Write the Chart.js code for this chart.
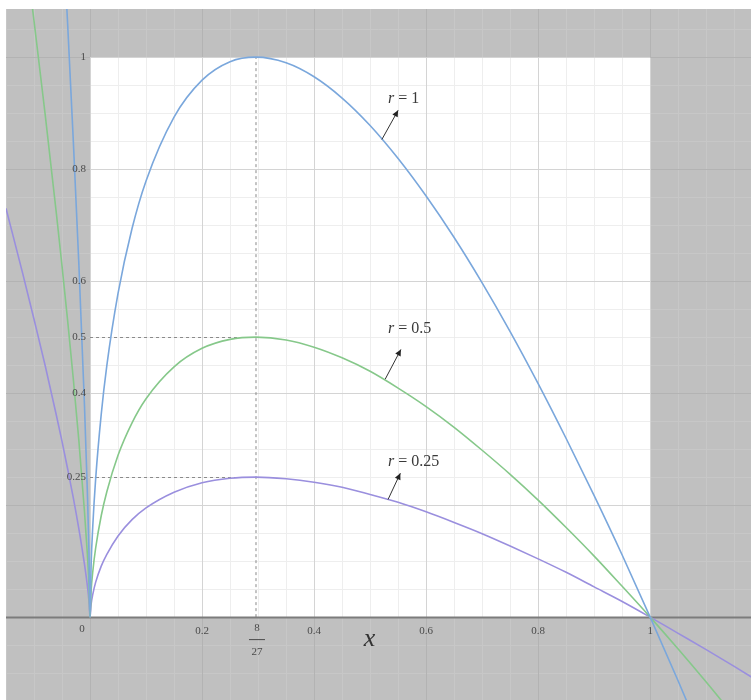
<!DOCTYPE html>
<html lang="en">
<head>
<meta charset="UTF-8">
<title>r curves</title>
<script src="https://cdn.jsdelivr.net/npm/chart.js"></script>
<style>
  body { margin: 0; background: #fff; }
  #wrap { width: 751px; height: 700px; }
</style>
</head>
<body>
<div id="wrap"><canvas id="chart" width="751" height="700"></canvas></div>
<script>
// values
const xs = [-0.15, -0.12, -0.1, -0.08, -0.06, -0.05, -0.04, -0.03, -0.02, -0.01, -0.005, -0.002,
  0, 0.002, 0.005, 0.01, 0.02, 0.03, 0.05, 0.075, 0.1, 0.15, 0.2, 0.25, 0.2963, 0.35, 0.4, 0.45,
  0.5, 0.55, 0.6, 0.65, 0.7, 0.75, 0.8, 0.85, 0.9, 0.95, 1, 1.05, 1.1, 1.15, 1.2];
const r1 = [2.918, 2.452, 2.129, 1.794, 1.440, 1.254, 1.060, 0.854, 0.632, 0.381, 0.231, 0.121,
  0, 0.094, 0.164, 0.246, 0.362, 0.449, 0.578, 0.694, 0.779, 0.893, 0.959, 0.992, 1.0, 0.990, 0.965, 0.927,
  0.878, 0.819, 0.752, 0.678, 0.597, 0.510, 0.417, 0.319, 0.217, 0.111, 0, -0.114, -0.232, -0.353, -0.478];
const r05 = [1.459, 1.226, 1.065, 0.897, 0.720, 0.627, 0.530, 0.427, 0.316, 0.190, 0.116, 0.060,
  0, 0.047, 0.082, 0.123, 0.181, 0.224, 0.289, 0.347, 0.390, 0.447, 0.480, 0.496, 0.5, 0.495, 0.482, 0.463,
  0.439, 0.409, 0.376, 0.339, 0.298, 0.255, 0.209, 0.160, 0.109, 0.055, 0, -0.057, -0.116, -0.177, -0.239];
const r025 = [0.730, 0.613, 0.532, 0.449, 0.360, 0.314, 0.265, 0.214, 0.158, 0.095, 0.058, 0.030,
  0, 0.023, 0.041, 0.062, 0.091, 0.112, 0.145, 0.174, 0.195, 0.223, 0.240, 0.248, 0.25, 0.247, 0.241, 0.232,
  0.219, 0.205, 0.188, 0.169, 0.149, 0.127, 0.104, 0.080, 0.054, 0.028, 0, -0.029, -0.058, -0.088, -0.119];

const yTicks = [1, 0.8, 0.6, 0.5, 0.4, 0.25];
const yTickLabels = ['1', '0.8', '0.6', '0.5', '0.4', '0.25'];
const xTicks = [0.2, 0.4, 0.6, 0.8, 1];
const xTickLabels = ['0.2', '0.4', '0.6', '0.8', '1'];
const peak = 8 / 27;
const dashLevels = [0.5, 0.25];
const seriesNames = ['1', '0.5', '0.25'];

const pts = ys => xs.map((x, i) => ({ x, y: ys[i] }));

// background, grid and axis, drawn from the scales
const paper = {
  id: 'paper',
  beforeDatasetsDraw(chart) {
    const { ctx, chartArea: a, scales: { x, y } } = chart;
    const X0 = x.getPixelForValue(0), X1 = x.getPixelForValue(1);
    const Y0 = y.getPixelForValue(0), Y1 = y.getPixelForValue(1);
    ctx.save();
    ctx.fillStyle = '#c0c0c0';
    ctx.fillRect(a.left, a.top, a.right - a.left, a.bottom - a.top);
    ctx.fillStyle = '#fff';
    ctx.fillRect(X0, Y1, X1 - X0, Y0 - Y1);
    ctx.lineWidth = 1;
    const line = (x1, y1, x2, y2, c) => {
      ctx.strokeStyle = c; ctx.beginPath(); ctx.moveTo(x1, y1); ctx.lineTo(x2, y2); ctx.stroke();
    };
    for (const pass of [false, true]) {
      for (let i = -4; i <= 24; i++) {
        const major = i % 4 === 0;
        if (major !== pass) continue;
        const v = i * 0.05;
        const px = Math.round(x.getPixelForValue(v)) + 0.5;
        if (px > a.left && px < a.right) {
          line(px, a.top, px, a.bottom, major ? '#b3b3b3' : '#c7c7c7');
          if (v >= -0.001 && v <= 1.001) line(px, Y1, px, Y0, major ? '#d4d4d4' : '#eeeeee');
        }
        const py = Math.round(y.getPixelForValue(v)) + 0.5;
        if (py > a.top && py < a.bottom) {
          line(a.left, py, a.right, py, major ? '#b3b3b3' : '#c7c7c7');
          if (v >= -0.001 && v <= 1.001) line(X0, py, X1, py, major ? '#d4d4d4' : '#eeeeee');
        }
      }
    }
    // dashed guides at the peak
    ctx.setLineDash([3, 3]);
    const PX = x.getPixelForValue(peak);
    line(PX, Y0, PX, Y1, '#8a8a8a');
    dashLevels.forEach(v => {
      const py = Math.round(y.getPixelForValue(v)) + 0.5;
      line(X0, py, PX, py, '#8a8a8a');
    });
    ctx.setLineDash([]);
    // x axis
    ctx.lineWidth = 2;
    line(a.left, Y0 + 0.5, a.right, Y0 + 0.5, '#7c7c7c');
    ctx.restore();
  },
  afterDatasetsDraw(chart) {
    const { ctx, scales: { x, y } } = chart;
    const X0 = x.getPixelForValue(0), Y0 = y.getPixelForValue(0);
    ctx.save();
    ctx.fillStyle = '#4a4a4a';
    ctx.font = '11px "Liberation Serif", serif';
    ctx.textBaseline = 'middle';
    ctx.textAlign = 'right';
    yTicks.forEach((v, i) => ctx.fillText(yTickLabels[i], X0 - 4, y.getPixelForValue(v)));
    ctx.textAlign = 'center';
    ctx.fillText('0', X0 - 8, Y0 + 12);
    xTicks.forEach((v, i) => ctx.fillText(xTickLabels[i], x.getPixelForValue(v), Y0 + 14));
    // 8/27 fraction
    const PX = x.getPixelForValue(peak);
    ctx.fillText('8', PX + 1, Y0 + 11);
    ctx.fillText('27', PX + 1, Y0 + 35);
    ctx.strokeStyle = '#4a4a4a';
    ctx.lineWidth = 1;
    ctx.beginPath(); ctx.moveTo(PX - 7, Y0 + 22.5); ctx.lineTo(PX + 9, Y0 + 22.5); ctx.stroke();
    // axis name
    ctx.font = 'italic 26px "Liberation Serif", serif';
    ctx.fillStyle = '#333';
    ctx.fillText('x', x.getPixelForValue(0.499), Y0 + 22);

    // labels with arrows
    const notes = [
      { text: seriesNames[0], at: [0.532, 0.918], tail: [0.521, 0.853], tip: [0.55, 0.905] },
      { text: seriesNames[1], at: [0.532, 0.508], tail: [0.527, 0.425], tip: [0.555, 0.478] },
      { text: seriesNames[2], at: [0.532, 0.27], tail: [0.532, 0.21], tip: [0.554, 0.257] }
    ];
    ctx.textAlign = 'left';
    ctx.textBaseline = 'alphabetic';
    notes.forEach(n => {
      const tx = x.getPixelForValue(n.at[0]), ty = y.getPixelForValue(n.at[1]);
      ctx.fillStyle = '#3a3a3a';
      ctx.font = 'italic 16px "Liberation Serif", serif';
      ctx.fillText('r', tx, ty);
      const w = ctx.measureText('r').width;
      ctx.font = '16px "Liberation Serif", serif';
      ctx.fillText(' = ' + n.text, tx + w, ty);
      const ax = x.getPixelForValue(n.tail[0]), ay = y.getPixelForValue(n.tail[1]);
      const bx = x.getPixelForValue(n.tip[0]), by = y.getPixelForValue(n.tip[1]);
      ctx.strokeStyle = '#333';
      ctx.lineWidth = 1;
      ctx.beginPath(); ctx.moveTo(ax, ay); ctx.lineTo(bx, by); ctx.stroke();
      const ang = Math.atan2(by - ay, bx - ax);
      ctx.beginPath();
      ctx.moveTo(bx, by);
      ctx.lineTo(bx - 7 * Math.cos(ang - 0.45), by - 7 * Math.sin(ang - 0.45));
      ctx.lineTo(bx - 7 * Math.cos(ang + 0.45), by - 7 * Math.sin(ang + 0.45));
      ctx.closePath();
      ctx.fillStyle = '#222';
      ctx.fill();
    });
    ctx.restore();
  }
};

new Chart(document.getElementById('chart'), {
  type: 'scatter',
  data: {
    datasets: [
      { label: 'r = 1', data: pts(r1), borderColor: '#7aa7dc' },
      { label: 'r = 0.5', data: pts(r05), borderColor: '#86c88a' },
      { label: 'r = 0.25', data: pts(r025), borderColor: '#9a8fde' }
    ]
  },
  options: {
    responsive: false,
    animation: false,
    layout: { padding: { left: 6, top: 9, right: 0, bottom: 0 } },
    datasets: {
      scatter: { showLine: true, borderWidth: 1.6, pointRadius: 0, cubicInterpolationMode: 'monotone' }
    },
    plugins: { legend: { display: false }, tooltip: { enabled: false } },
    scales: {
      x: { type: 'linear', min: -0.15, max: 1.18, display: false },
      y: { type: 'linear', min: -0.148, max: 1.086, display: false }
    }
  },
  plugins: [paper]
});
</script>
</body>
</html>
